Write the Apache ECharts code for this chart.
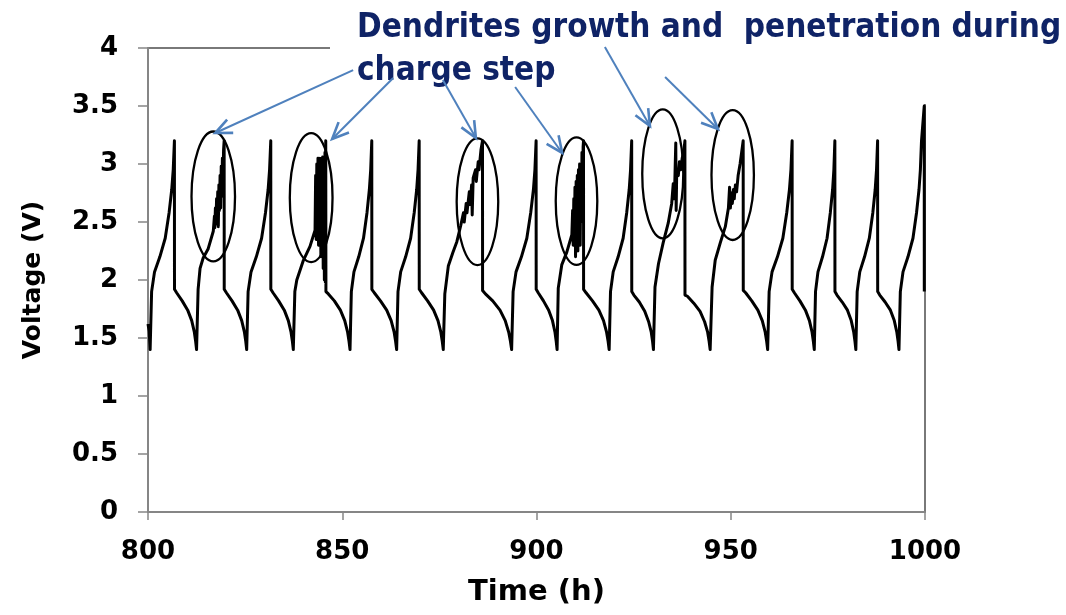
<!DOCTYPE html>
<html><head><meta charset="utf-8">
<script src="https://cdn.jsdelivr.net/npm/echarts@6/dist/echarts.min.js"></script>
<style>html,body{margin:0;padding:0;background:#fff}#chart{width:1066px;height:615px}</style>
</head><body><div id="chart"></div>
<script>
// ---- axis ticks ----
const xTicks = [800, 850, 900, 950, 1000];
const yTicks = [0, 0.5, 1, 1.5, 2, 2.5, 3, 3.5, 4];

// ---- data: [time (h), voltage (V)] per cycle ----
const cycle00 = [[800.0,1.62],[800.3,1.56],[800.55,1.40]];
const cycle01 = [[800.93,1.90],[801.68,2.07],[803.05,2.20],[804.43,2.36],[805.43,2.58],[806.11,2.78],[806.49,2.95],[806.8,3.20],
  [806.82,1.92],[807.37,1.89],[808.8,1.82],[810.22,1.74],[811.25,1.65],[811.93,1.55],[812.27,1.47],[812.5,1.40]];
const cycle02 = [[812.9,1.92],[813.4,2.10],[814.2,2.19],[815.5,2.27],[816.8,2.42],[817.1,2.55],[817.2,2.45],[817.35,2.62],[817.5,2.48],[817.65,2.70],[817.8,2.50],[817.95,2.76],[818.1,2.46],[818.25,2.82],[818.4,2.60],[818.55,2.90],[818.7,2.62],[818.85,2.98],[819.0,2.72],[819.15,3.05],[819.3,2.85],[819.45,3.12],[819.6,3.20],
  [819.62,1.92],[820.18,1.89],[821.63,1.82],[823.08,1.74],[824.12,1.65],[824.82,1.55],[825.17,1.47],[825.4,1.40]];
const cycle03 = [[825.77,1.90],[826.52,2.07],[827.88,2.20],[829.24,2.36],[830.24,2.58],[830.92,2.78],[831.29,2.95],[831.6,3.20],
  [831.62,1.92],[832.18,1.89],[833.63,1.82],[835.08,1.74],[836.12,1.65],[836.82,1.55],[837.17,1.47],[837.4,1.40]];
const cycle04 = [[837.8,1.90],[838.3,2.00],[840.0,2.17],[841.7,2.29],[843.0,2.43],[843.15,2.90],[843.3,2.35],[843.45,3.00],[843.6,2.40],[843.75,3.05],[843.9,2.30],[844.05,3.05],[844.2,2.50],[844.35,3.00],[844.5,2.20],[844.65,3.05],[844.8,2.60],[844.95,3.06],[845.1,2.10],[845.25,3.05],[845.4,2.00],[845.55,3.10],[845.65,1.98],[845.75,3.20],
  [845.8,1.90],[846.42,1.88],[847.97,1.82],[849.52,1.74],[850.64,1.65],[851.38,1.55],[851.75,1.47],[852.0,1.40]];
const cycle05 = [[852.34,1.90],[853.01,2.07],[854.24,2.20],[855.47,2.36],[856.37,2.58],[856.98,2.78],[857.32,2.95],[857.6,3.20],
  [857.62,1.92],[858.24,1.89],[859.84,1.82],[861.44,1.74],[862.59,1.65],[863.36,1.55],[863.74,1.47],[864.0,1.40]];
const cycle06 = [[864.35,1.90],[865.04,2.07],[866.32,2.20],[867.6,2.36],[868.52,2.58],[869.16,2.78],[869.51,2.95],[869.8,3.20],
  [869.82,1.92],[870.42,1.89],[871.97,1.82],[873.52,1.74],[874.64,1.65],[875.38,1.55],[875.75,1.47],[876.0,1.40]];
const cycle07 = [[876.4,1.88],[877.3,2.12],[878.5,2.24],[879.5,2.33],[880.5,2.47],[881.2,2.58],[881.4,2.50],[881.9,2.66],[882.1,2.58],[882.7,2.76],[882.9,2.65],[883.3,2.82],[883.45,2.56],[883.7,2.88],[884.3,2.95],[884.5,2.85],[885.0,3.02],[885.2,2.95],[885.7,3.12],[886.1,3.20],
  [886.12,1.91],[886.85,1.88],[888.73,1.82],[890.6,1.74],[891.95,1.65],[892.85,1.55],[893.3,1.47],[893.6,1.40]];
const cycle08 = [[893.98,1.90],[894.73,2.07],[896.12,2.20],[897.51,2.36],[898.51,2.58],[899.21,2.78],[899.59,2.95],[899.9,3.20],
  [899.92,1.92],[900.44,1.89],[901.79,1.82],[903.14,1.74],[904.11,1.65],[904.76,1.55],[905.08,1.47],[905.3,1.40]];
const cycle09 = [[905.6,1.93],[906.5,2.13],[907.8,2.24],[909.1,2.39],[909.3,2.60],[909.45,2.30],[909.6,2.70],[909.75,2.35],[909.9,2.80],[910.05,2.20],[910.2,2.85],[910.35,2.30],[910.5,2.90],[910.65,2.25],[910.8,2.95],[910.95,2.40],[911.1,3.00],[911.25,2.30],[911.4,3.00],[911.55,2.50],[911.7,3.10],[911.85,2.60],[912.0,3.15],[912.1,3.20],
  [912.12,1.92],[912.76,1.89],[914.41,1.82],[916.06,1.74],[917.25,1.65],[918.04,1.55],[918.44,1.47],[918.7,1.40]];
const cycle10 = [[919.05,1.90],[919.74,2.07],[921.02,2.20],[922.3,2.36],[923.22,2.58],[923.86,2.78],[924.21,2.95],[924.5,3.20],
  [924.52,1.90],[925.06,1.87],[926.46,1.81],[927.86,1.73],[928.87,1.64],[929.54,1.55],[929.88,1.47],[930.1,1.40]];
const cycle11 = [[930.5,1.94],[931.4,2.14],[932.6,2.32],[933.9,2.49],[934.8,2.66],[935.2,2.83],[935.5,2.70],[935.7,2.98],[935.85,3.18],[935.95,2.60],[936.1,2.95],[936.5,2.90],[936.8,3.02],[937.1,2.95],[937.5,3.05],[937.9,3.10],[938.2,3.20],
  [938.22,1.87],[938.85,1.86],[940.48,1.80],[942.1,1.73],[943.27,1.64],[944.05,1.55],[944.44,1.47],[944.7,1.40]];
const cycle12 = [[945.2,1.94],[946.0,2.17],[947.3,2.32],[948.6,2.46],[949.4,2.62],[949.7,2.80],[949.9,2.62],[950.2,2.75],[950.4,2.66],[950.7,2.78],[950.9,2.70],[951.2,2.82],[951.5,2.76],[951.9,2.90],[952.4,3.00],[952.8,3.10],[953.2,3.20],
  [953.22,1.91],[953.83,1.89],[955.41,1.82],[956.98,1.74],[958.11,1.65],[958.87,1.55],[959.25,1.47],[959.5,1.40]];
const cycle13 = [[959.88,1.90],[960.63,2.07],[962.02,2.20],[963.41,2.36],[964.41,2.58],[965.11,2.78],[965.49,2.95],[965.8,3.20],
  [965.82,1.92],[966.37,1.89],[967.8,1.82],[969.22,1.74],[970.25,1.65],[970.93,1.55],[971.27,1.47],[971.5,1.40]];
const cycle14 = [[971.82,1.90],[972.45,2.07],[973.62,2.20],[974.79,2.36],[975.63,2.58],[976.22,2.78],[976.54,2.95],[976.8,3.20],
  [976.82,1.90],[977.34,1.87],[978.69,1.81],[980.04,1.74],[981.01,1.65],[981.66,1.55],[981.98,1.47],[982.2,1.40]];
const cycle15 = [[982.54,1.90],[983.21,2.07],[984.44,2.20],[985.67,2.36],[986.57,2.58],[987.18,2.78],[987.52,2.95],[987.8,3.20],
  [987.82,1.90],[988.35,1.87],[989.73,1.81],[991.1,1.74],[992.09,1.65],[992.75,1.55],[993.08,1.47],[993.3,1.40]];
const cycle16 = [[993.65,1.90],[994.34,2.07],[995.62,2.20],[996.9,2.36],[997.82,2.58],[998.46,2.78],[998.81,2.95],[999.1,3.20],[999.8,3.50],[999.82,1.90]];

// ---- annotations (data coordinates) ----
const annotationLines = ['Dendrites growth and  penetration during', 'charge step'];
// ellipses: [centre time, centre voltage, half-width (h), half-height (V)]
const ellipses = [[816.8,2.72,5.6,0.56],[842.0,2.71,5.5,0.556],[884.8,2.675,5.35,0.546],[910.3,2.68,5.35,0.55],[932.5,2.915,5.28,0.556],[950.5,2.905,5.46,0.56]];
// arrows: [tail time, tail voltage, head time, head voltage]
const arrows = [[852.8,3.81,817.3,3.267],[863.1,3.741,847.4,3.216],[875.9,3.724,884.4,3.224],[894.5,3.664,906.6,3.095],[917.6,4.009,929.2,3.328],[933.1,3.75,946.7,3.302]];

const series = [].concat(cycle00,cycle01,cycle02,cycle03,cycle04,cycle05,cycle06,cycle07,cycle08,cycle09,cycle10,cycle11,cycle12,cycle13,cycle14,cycle15,cycle16);

const labelFont = "'DejaVu Sans', sans-serif";
const chart = echarts.init(document.getElementById('chart'), null, {renderer: 'canvas'});
chart.setOption({
  animation: false,
  backgroundColor: '#ffffff',
  grid: {left: 148, right: 141, top: 48, bottom: 103, show: true, borderColor: '#4d4d4d', borderWidth: 1.5},
  xAxis: {
    type: 'value', min: xTicks[0], max: xTicks[xTicks.length-1], interval: 50,
    axisLine: {show: true, lineStyle: {color: '#868686', width: 2}},
    axisTick: {show: true, length: 8, lineStyle: {color: '#868686', width: 1.5}},
    axisLabel: {margin: 27, color: '#000', fontSize: 26, fontWeight: 'bold', fontFamily: labelFont, formatter: v => String(v)},
    splitLine: {show: false},
    name: 'Time (h)', nameLocation: 'middle', nameGap: 66,
    nameTextStyle: {color: '#000', fontSize: 29, fontWeight: 'bold', fontFamily: labelFont}
  },
  yAxis: {
    type: 'value', min: yTicks[0], max: yTicks[yTicks.length-1], interval: 0.5,
    axisLine: {show: true, lineStyle: {color: '#868686', width: 2}},
    axisTick: {show: true, length: 10, lineStyle: {color: '#868686', width: 1.5}},
    axisLabel: {margin: 30, color: '#000', fontSize: 26, fontWeight: 'bold', fontFamily: labelFont},
    splitLine: {show: false},
    name: 'Voltage (V)', nameLocation: 'middle', nameGap: 102,
    nameTextStyle: {color: '#000', fontSize: 25, fontWeight: 'bold', fontFamily: labelFont}
  },
  series: [{type: 'line', data: series, showSymbol: false, symbol: 'none', clip: true,
    lineStyle: {color: '#000', width: 3, join: 'round'}, z: 2}]
});

function px(t, v) { return chart.convertToPixel({gridIndex: 0}, [t, v]); }
const graphics = [];
graphics.push({type: 'rect', shape: {x: 330, y: 0, width: 736, height: 104}, style: {fill: '#ffffff'}, z: 100});
const titleFont = "bold 33px 'Liberation Sans Narrow', 'DejaVu Sans Condensed', 'DejaVu Sans', sans-serif";
graphics.push({type: 'text', x: 357, y: 28, z: 101, style: {text: annotationLines[0], font: titleFont, fill: '#0f2366', verticalAlign: 'middle', align: 'left'}});
graphics.push({type: 'text', x: 357, y: 71, z: 101, style: {text: annotationLines[1], font: titleFont, fill: '#0f2366', verticalAlign: 'middle', align: 'left'}});
ellipses.forEach(e => {
  const c = px(e[0], e[1]);
  const r = px(e[0] + e[2], e[1] + e[3]);
  graphics.push({type: 'ellipse', z: 102, shape: {cx: c[0], cy: c[1], rx: Math.abs(r[0]-c[0]), ry: Math.abs(r[1]-c[1])},
    style: {fill: 'none', stroke: '#000', lineWidth: 2.3}});
});
arrows.forEach(a => {
  const p1 = px(a[0], a[1]);
  const p2 = px(a[2], a[3]);
  const ang = Math.atan2(p2[1]-p1[1], p2[0]-p1[0]);
  const L = 18, th = 0.42;
  const h1 = [p2[0] - L*Math.cos(ang - th), p2[1] - L*Math.sin(ang - th)];
  const h2 = [p2[0] - L*Math.cos(ang + th), p2[1] - L*Math.sin(ang + th)];
  graphics.push({type: 'polyline', z: 103, shape: {points: [p1, p2]}, style: {stroke: '#4f81bd', lineWidth: 2, fill: null}});
  graphics.push({type: 'polyline', z: 103, shape: {points: [h1, p2, h2]}, style: {stroke: '#4f81bd', lineWidth: 2.6, fill: null, lineJoin: 'miter'}});
});
chart.setOption({graphic: graphics});
</script>
</body></html>
